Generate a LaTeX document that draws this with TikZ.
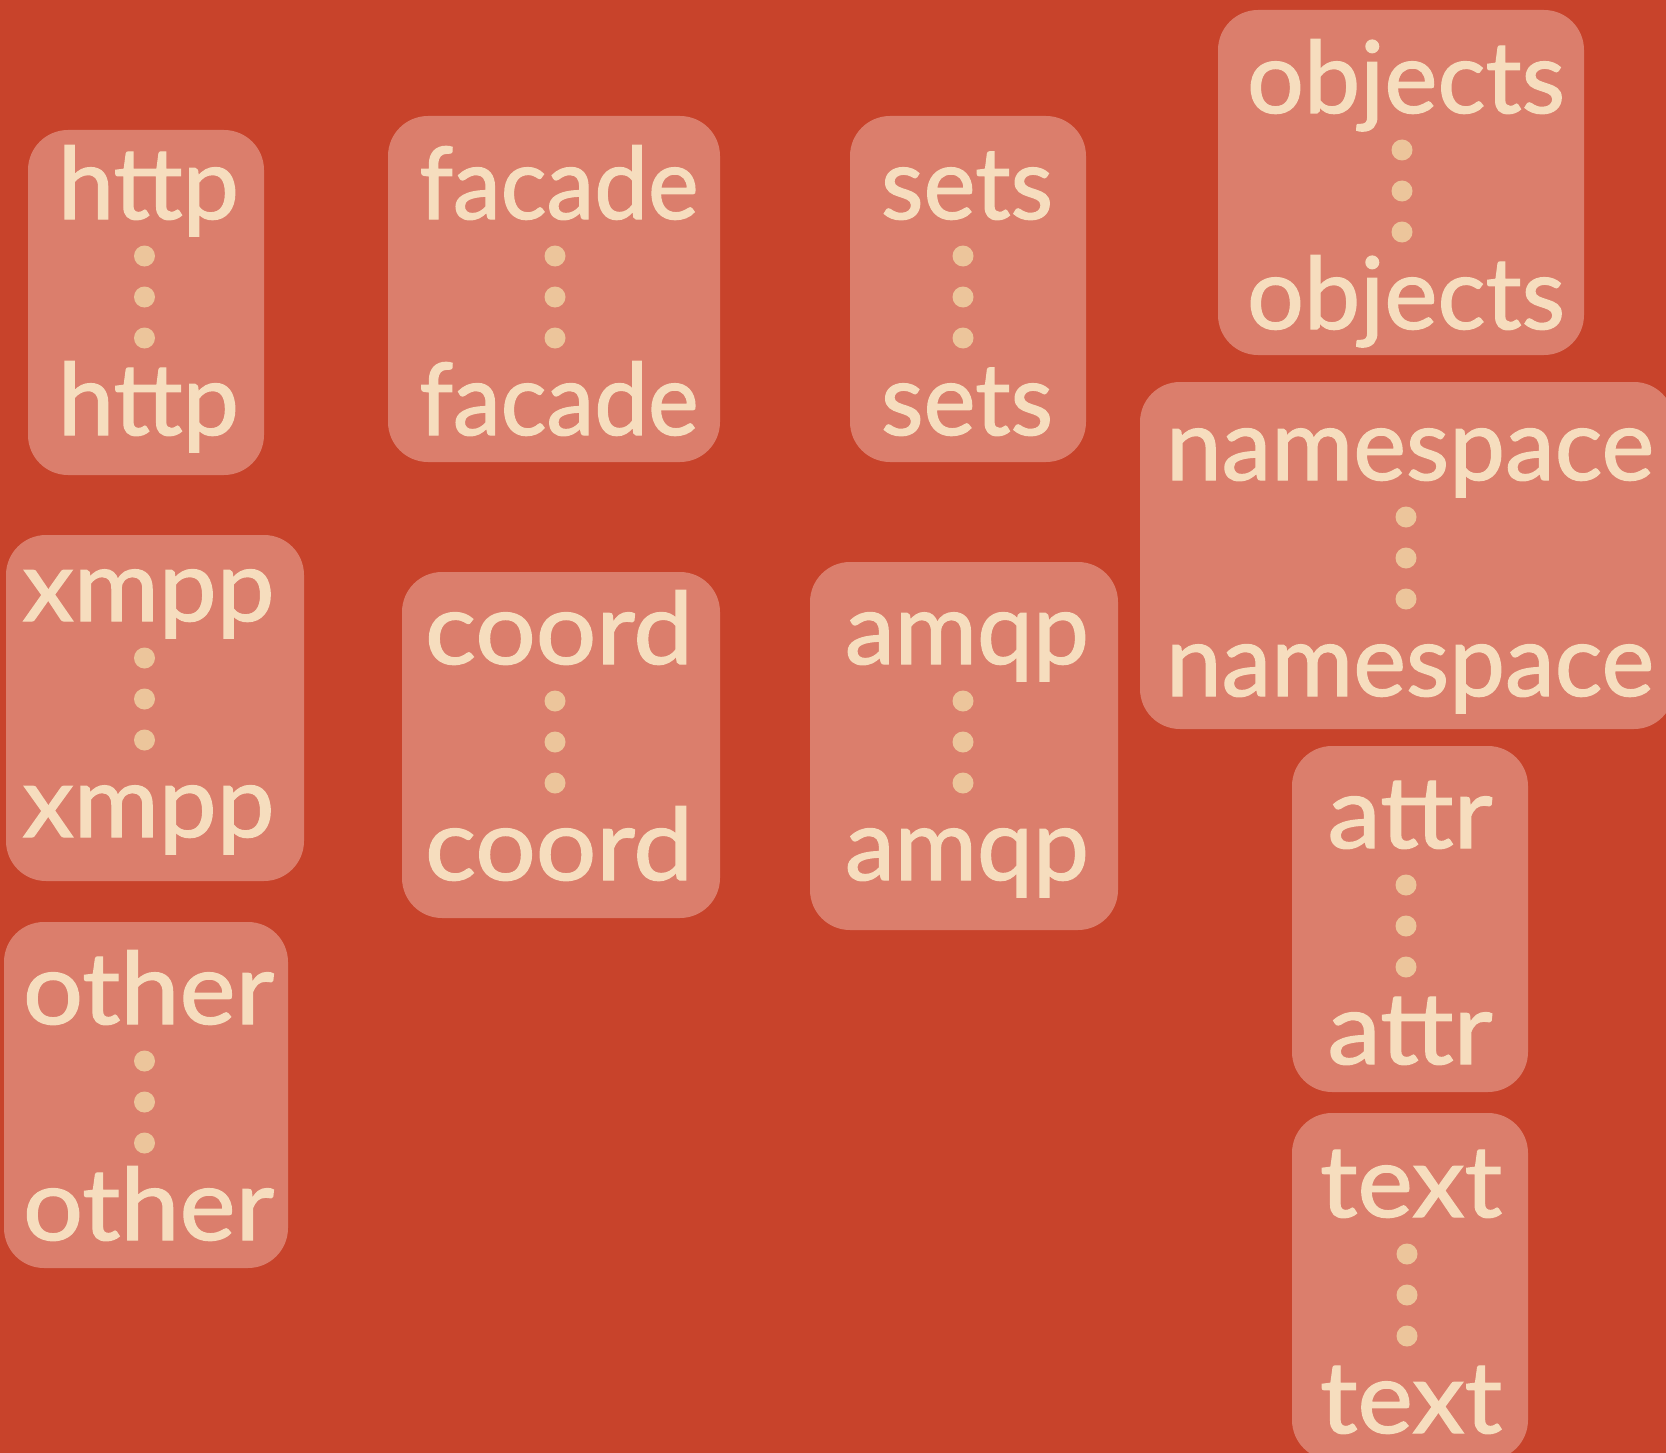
\documentclass[tikz,border=0pt]{standalone}
\usepackage{fontspec}
\usepackage{graphicx}
\setmainfont{Lato}
\newfontfamily\wordfont{Lato}[FakeBold=1.3]
\definecolor{bgcol}{HTML}{C8432B}
\definecolor{boxcol}{HTML}{DB7E6C}
\definecolor{txtcol}{HTML}{F6DDBE}
\definecolor{dotcol}{HTML}{ECC59B}
\tikzset{
  stackbox/.style={rectangle, rounded corners=40pt, fill=boxcol, draw=none, inner sep=0pt},
  word/.style={text=txtcol, inner sep=0pt, anchor=base, font=\wordfont\fontsize{100}{100}\selectfont},
  dotmark/.style={circle, fill=dotcol, draw=none, inner sep=0pt, minimum size=21pt},
}
% #1 name, #2 x1, #3 y1, #4 x2, #5 y2, #6 dot x, #7 middle dot y, #8 word, #9 word width
\newcommand\stk[9]{%
  \node[stackbox, minimum width={#4-#2}, minimum height={#5-#3}] (#1) at ({(#2+#4)/2},{(#3+#5)/2}) {};
  \node[word] (#1-top) at ({#6+4},{#7-78}) {\resizebox{#9pt}{\height}{#8}};
  \node[word] (#1-bot) at ({#6+4},{#7+138}) {\resizebox{#9pt}{\height}{#8}};
  \node[dotmark] (#1-d1) at (#6,{#7-41}) {};
  \node[dotmark] (#1-d2) at (#6,#7) {};
  \node[dotmark] (#1-d3) at (#6,{#7+41}) {};
}
\begin{document}
\begin{tikzpicture}[x=1pt,y=-1pt]
\useasboundingbox (0,0) rectangle (1666,1453);
\fill[bgcol] (0,0) rectangle (1666,1453);
\stk{http}{28}{130}{264}{475}{144.5}{297}{http}{181}
\stk{facade}{388}{116}{720}{462}{555}{297}{facade}{279}
\stk{sets}{850}{116}{1086}{462}{963}{297}{sets}{172}
\stk{objects}{1218}{10}{1584}{355}{1402}{191}{objects}{318}
\stk{namespace}{1140}{382}{1674}{729}{1406}{558}{namespace}{488}
\stk{xmpp}{6}{535}{304}{881}{144.5}{699}{xmpp}{252}
\stk{coord}{402}{572}{720}{918}{555}{742}{coord}{268}
\stk{amqp}{810}{562}{1118}{930}{963}{742}{amqp}{244}
\stk{attr}{1292}{746}{1528}{1092}{1406}{926}{attr}{165}
\stk{other}{4}{922}{288}{1268}{144.5}{1102}{other}{251}
\stk{text}{1292}{1113}{1528}{1460}{1407}{1295}{text}{182}
\end{tikzpicture}
\end{document}
